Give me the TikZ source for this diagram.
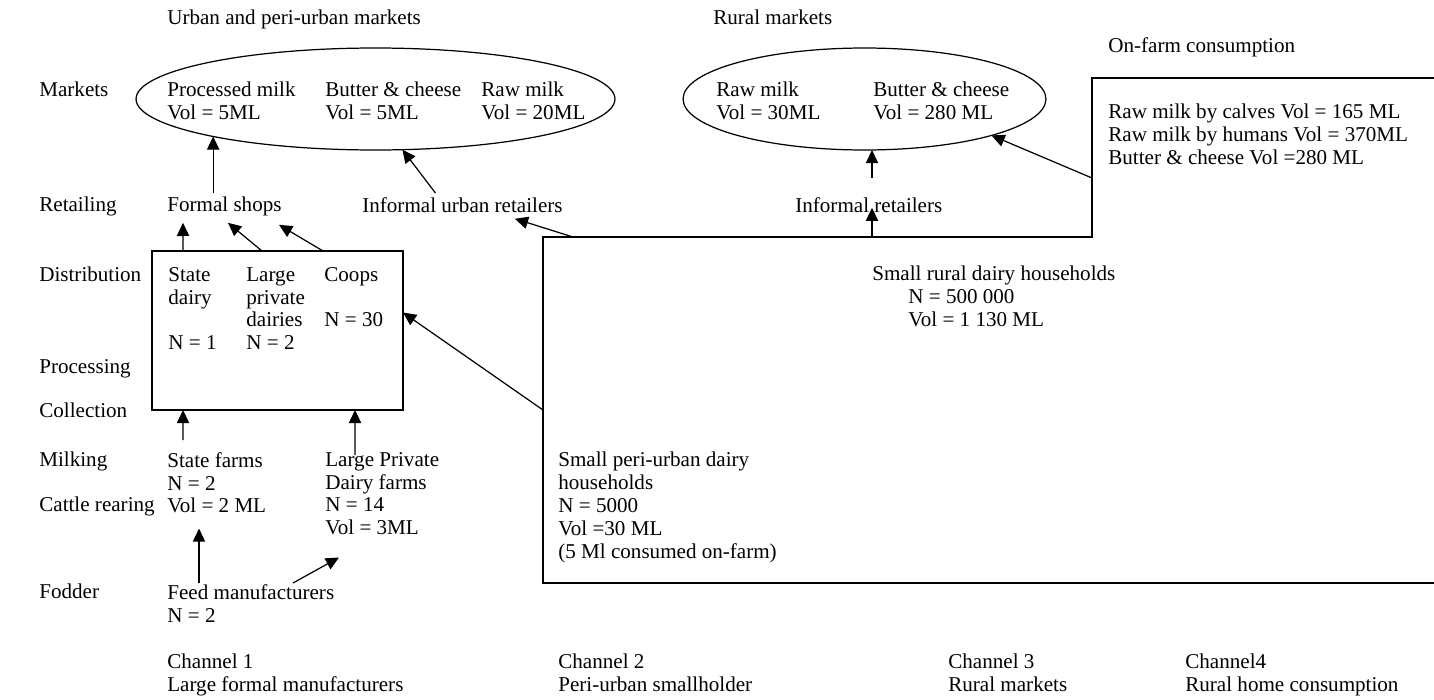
\documentclass[tikz,border=0pt]{standalone}
\usepackage{fontspec}
\setmainfont{Liberation Serif}
\usetikzlibrary{shapes.geometric, arrows.meta, positioning, calc}

\begin{document}
\begin{tikzpicture}[x=0.02cm, y=-0.02cm,
  lbl/.style={anchor=north west, inner sep=0pt, align=left,
              font=\fontsize{12}{13}\selectfont},
  mkt/.style={ellipse, draw, line width=0.7pt, inner sep=0pt, outer sep=0pt,
              minimum height=2.04cm},
  arr/.style={-{Triangle[length=7.5pt, width=7pt]}, line width=0.7pt},
]
  \useasboundingbox (0,0) rectangle (1434,700);

  % stage labels
  \node[lbl] (sMk) at (39,82)  {Markets};
  \node[lbl] (sRt) at (39,197) {Retailing};
  \node[lbl] (sDs) at (39,267) {Distribution};
  \node[lbl] (sPr) at (39,359) {Processing};
  \node[lbl] (sCo) at (39,403) {Collection};
  \node[lbl] (sMl) at (39,452) {Milking};
  \node[lbl] (sCr) at (39,497) {Cattle rearing};
  \node[lbl] (sFo) at (39,584) {Fodder};

  % headings
  \node[lbl] (hUrb)  at (167,10)  {Urban and peri-urban markets};
  \node[lbl] (hRur)  at (713,10)  {Rural markets};
  \node[lbl] (hFarm) at (1108,37) {On-farm consumption};

  % markets
  \node[mkt, minimum width=9.58cm] (urb) at (375.5,99) {};
  \node[mkt, minimum width=7.26cm] (rur) at (864.5,99) {};
  \node[lbl] (pm)  at (167,82) {Processed milk\\Vol = 5ML};
  \node[lbl] (bc1) at (325,82) {Butter \& cheese\\Vol = 5ML};
  \node[lbl] (rm1) at (481,82) {Raw milk\\Vol = 20ML};
  \node[lbl] (rm2) at (716,82) {Raw milk\\Vol = 30ML};
  \node[lbl] (bc2) at (873,82) {Butter \& cheese\\Vol = 280 ML};
  \node[lbl] (farm) at (1108,104) {Raw milk by calves Vol = 165 ML\\Raw milk by humans Vol = 370ML\\Butter \& cheese Vol =280 ML};

  % retailers
  \node[lbl] (fshop) at (167,197) {Formal shops};
  \node[lbl] (iur)   at (362,197) {Informal urban retailers};
  \node[lbl] (ir)    at (795,197) {Informal retailers};

  % processors
  \node[draw, line width=0.7pt, minimum width=5.02cm, minimum height=3.18cm,
        inner sep=0pt, outer sep=0pt] (proc) at (277.5,330.5) {};
  \node[lbl] (sd)   at (168,267) {State\\dairy\\[13pt]N = 1};
  \node[lbl] (lpd)  at (246,267) {Large\\private\\dairies\\N = 2};
  \node[lbl] (coop) at (324,267) {Coops\\[13pt]N = 30};

  % households
  \draw[line width=0.7pt] (1434,78) -- (1092,78) -- (1092,237) -- (543,237)
    -- (543,583) -- (1434,583);
  \coordinate (hhA) at (573,237);
  \coordinate (hhB) at (543,410);
  \coordinate (hhC) at (872,237);
  \coordinate (hhD) at (1092,178);
  \node[lbl] (rhh) at (872,266) {Small rural dairy households\\\hspace*{0.72cm}N = 500 000\\\hspace*{0.72cm}Vol = 1 130 ML};
  \node[lbl] (phh) at (558,452) {Small peri-urban dairy\\households\\N = 5000\\Vol =30 ML\\(5 Ml consumed on-farm)};

  % farms
  \node[lbl] (stf)  at (167,452) {State farms\\N = 2\\Vol = 2 ML};
  \node[lbl] (lpf)  at (325,452) {Large Private\\Dairy farms\\N = 14\\Vol = 3ML};
  \node[lbl] (feed) at (167,584) {Feed manufacturers\\N = 2};

  % channels
  \node[lbl] (ch1) at (167,654)  {Channel 1\\Large formal manufacturers};
  \node[lbl] (ch2) at (558,654)  {Channel 2\\Peri-urban smallholder};
  \node[lbl] (ch3) at (948,654)  {Channel 3\\Rural markets};
  \node[lbl] (ch4) at (1185,654) {Channel4\\Rural home consumption};

  % flows
  \draw[arr] ($(fshop.north -| urb.193)+(0,-4)$) -- (urb.193);
  \draw[arr] ($(iur.north)+(-27,-4)$) -- (urb.298);
  \draw[arr] ($(proc.north west)+(31,0)$)  -- ($(fshop.south west)+(16,6)$);
  \draw[arr] ($(proc.north west)+(110,0)$) -- ($(fshop.south west)+(61,6)$);
  \draw[arr] ($(proc.north west)+(171,0)$) -- ($(fshop.south west)+(112,8)$);
  \draw[arr] (hhA) -- ($(iur.south east)+(-48,6)$);
  \draw[arr] (hhB) -- ($(proc.east)+(0,-18)$);
  \draw[arr] (hhC) -- ($(hhC |- ir.south)+(0,-5)$);
  \draw[arr] ($(hhC |- ir.north)+(0,-19)$) -- (hhC |- rur.south);
  \draw[arr] (hhD) -- (rur.-16);
  \draw[arr] ($(stf.north west)+(16,-12)$) -- ($(proc.south west)+(31,0)$);
  \draw[arr] ($(lpf.north west)+(30,3)$)   -- ($(proc.south west)+(203,0)$);
  \draw[arr] ($(feed.north west)+(32,-1)$) -- ($(stf.south west)+(32,15)$);
  \draw[arr] ($(feed.north west)+(126,-1)$) -- ($(lpf.south west)+(14,22)$);
\end{tikzpicture}
\end{document}
